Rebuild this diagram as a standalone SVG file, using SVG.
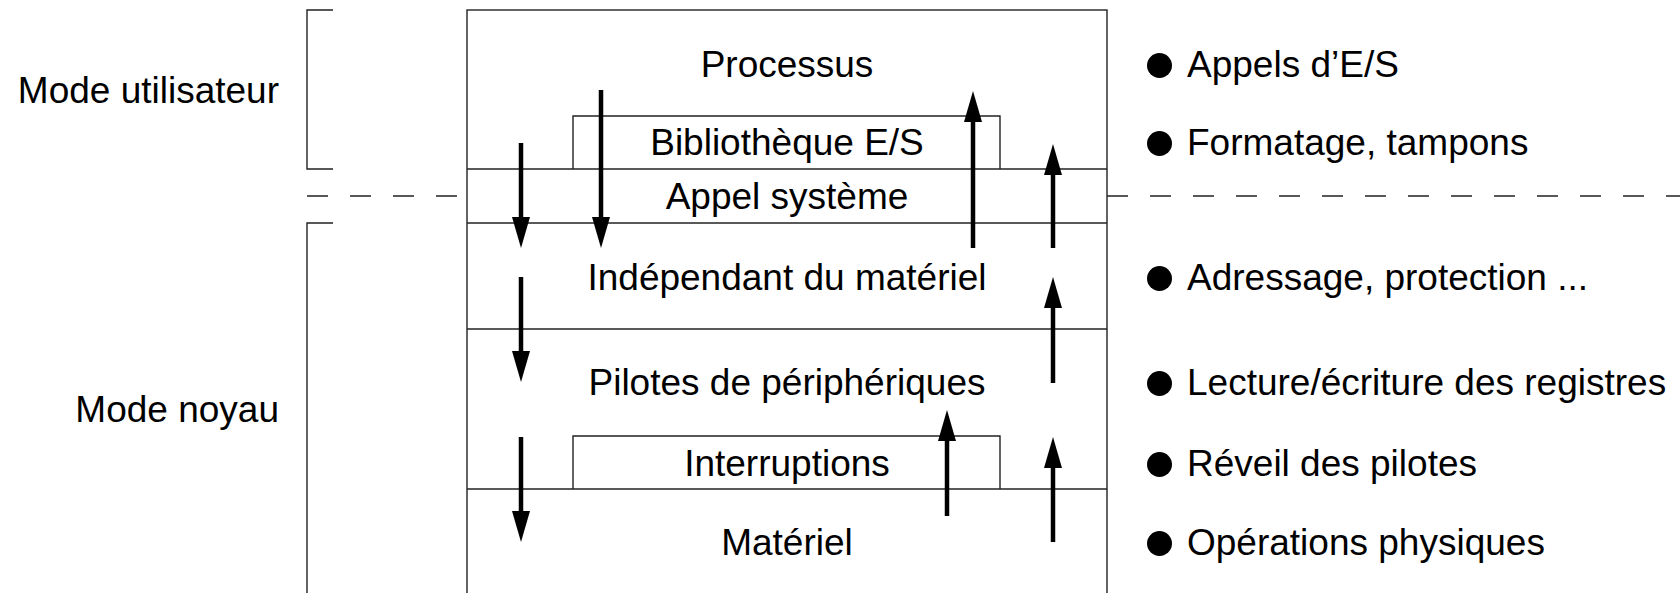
<svg xmlns="http://www.w3.org/2000/svg" width="1680" height="593" viewBox="0 0 1680 593">
<style>
  text { font-family: "Liberation Sans", Arial, sans-serif; font-size: 37px; fill: #000; }
  .c { text-anchor: middle; }
  .r { text-anchor: end; }
  .box { fill: none; stroke: #222; stroke-width: 1.4; }
  .ln { stroke: #222; stroke-width: 1.4; fill: none; }
  .dash { stroke: #222; stroke-width: 1.4; stroke-dasharray: 21 22; fill: none; }
  .arrow { stroke: #000; stroke-width: 4.5; fill: none; marker-end: url(#head); }
  .bullet { fill: #000; }
</style>
<defs>
  <marker id="head" viewBox="0 0 31 18" refX="3" refY="9" markerWidth="31" markerHeight="18" orient="auto" markerUnits="userSpaceOnUse">
    <path d="M0,0 L31,9 L0,18 z" fill="#000"/>
  </marker>
</defs>
<rect width="1680" height="593" fill="#fff"/>

<g id="mode-utilisateur">
  <path class="ln" d="M333,10 H307 V169 H333"/>
  <text class="r" x="279" y="103">Mode utilisateur</text>
</g>
<g id="mode-noyau">
  <path class="ln" d="M333,223 H307 V600"/>
  <text class="r" x="279" y="422">Mode noyau</text>
</g>
<g id="separator">
  <line class="dash" x1="307" y1="196" x2="460" y2="196"/>
  <line class="dash" x1="1107" y1="196" x2="1680" y2="196"/>
</g>

<g id="stack">
  <rect class="box" x="467" y="10" width="640" height="600"/>
  <line class="ln" x1="467" y1="169" x2="1107" y2="169"/>
  <line class="ln" x1="467" y1="223" x2="1107" y2="223"/>
  <line class="ln" x1="467" y1="329" x2="1107" y2="329"/>
  <line class="ln" x1="467" y1="489" x2="1107" y2="489"/>
</g>
<g id="processus"><text class="c" x="787" y="77">Processus</text></g>
<g id="bibliotheque">
  <path class="ln" d="M573,169 V116 H1000 V169"/>
  <text class="c" x="787" y="155">Bibliothèque E/S</text>
</g>
<g id="appel-systeme"><text class="c" x="787" y="209">Appel système</text></g>
<g id="independant"><text class="c" x="787" y="290">Indépendant du matériel</text></g>
<g id="pilotes"><text class="c" x="787" y="395">Pilotes de périphériques</text></g>
<g id="interruptions">
  <path class="ln" d="M573,489 V436 H1000 V489"/>
  <text class="c" x="787" y="476">Interruptions</text>
</g>
<g id="materiel"><text class="c" x="787" y="555">Matériel</text></g>

<g id="connectors">
  <line class="arrow" x1="521" y1="143" x2="521" y2="220"/>
  <line class="arrow" x1="521" y1="277" x2="521" y2="354"/>
  <line class="arrow" x1="521" y1="437" x2="521" y2="514"/>
  <line class="arrow" x1="601" y1="90" x2="601" y2="220"/>
  <line class="arrow" x1="973" y1="248" x2="973" y2="119"/>
  <line class="arrow" x1="1053" y1="248" x2="1053" y2="172"/>
  <line class="arrow" x1="1053" y1="383" x2="1053" y2="305"/>
  <line class="arrow" x1="1053" y1="542" x2="1053" y2="465"/>
  <line class="arrow" x1="947" y1="516" x2="947" y2="438"/>
</g>

<g id="notes">
  <circle class="bullet" cx="1159.5" cy="65.5" r="12.5"/>
  <text x="1187" y="77">Appels d’E/S</text>
  <circle class="bullet" cx="1159.5" cy="143.5" r="12.5"/>
  <text x="1187" y="155">Formatage, tampons</text>
  <circle class="bullet" cx="1159.5" cy="278.5" r="12.5"/>
  <text x="1187" y="290">Adressage, protection ...</text>
  <circle class="bullet" cx="1159.5" cy="383.5" r="12.5"/>
  <text x="1187" y="395">Lecture/écriture des registres</text>
  <circle class="bullet" cx="1159.5" cy="464.5" r="12.5"/>
  <text x="1187" y="476">Réveil des pilotes</text>
  <circle class="bullet" cx="1159.5" cy="543.5" r="12.5"/>
  <text x="1187" y="555">Opérations physiques</text>
</g>
</svg>
